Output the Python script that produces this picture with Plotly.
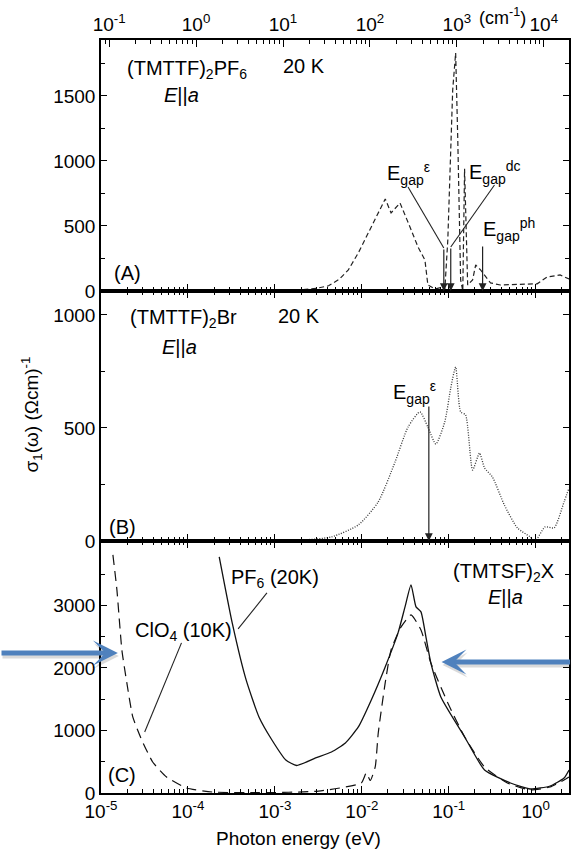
import numpy as np
import plotly.graph_objects as go

EV_TO_CM = 8065.54

# (A) (TMTTF)2PF6, 20 K, E||a
a_ev = [3.9e-4, 1.0e-3, 1.88e-3, 3.0e-3, 4.14e-3, 5.5e-3, 7.0e-3, 9.1e-3, 0.0186, 0.0217,
        0.0275, 0.0358, 0.0443, 0.0532, 0.0575, 0.0692, 0.0800, 0.0900, 0.0975, 0.111,
        0.120, 0.127, 0.137, 0.145, 0.152, 0.165, 0.188, 0.204, 0.232, 0.302, 0.393,
        1.04, 1.35, 1.91, 2.42]
a_sigma = [0, 5, 8, 20, 40, 90, 162, 292, 708, 600,
           677, 492, 338, 238, 46, 15, 25, 5, 392, 1546,
           1831, 1160, 85, 0, 940, 46, 85, 200, 162, 62, 46,
           55, 108, 123, 92]

# (B) (TMTTF)2Br, 20 K, E||a
b_ev = [1.35e-4, 1.0e-3, 1.88e-3, 4.48e-3, 9.12e-3, 0.01545, 0.02415, 0.0340, 0.0466, 0.0575,
        0.0710, 0.0900, 0.1054, 0.120, 0.137, 0.156, 0.188, 0.226, 0.258, 0.318,
        0.436, 0.615, 0.865, 0.987, 1.28, 1.63, 2.12, 2.42]
b_sigma = [0, 2, 3, 18, 71, 173, 350, 504, 571, 504,
           429, 527, 677, 770, 571, 558, 314, 389, 323, 283,
           159, 58, 18, 0, 62, 58, 173, 235]

# (C) (TMTSF)2ClO4, 10 K
clo4_ev = [1.371e-5, 1.524e-5, 1.738e-5, 1.983e-5, 2.32e-5, 2.94e-5, 3.93e-5, 5.68e-5, 9.62e-5, 1.905e-4,
           6.56e-4, 3.18e-3, 9.86e-3, 0.01125, 0.0125, 0.01426, 0.01545, 0.01857, 0.0217, 0.0283,
           0.0368, 0.0479, 0.0622, 0.0975, 0.1524, 0.258, 0.472, 0.865, 1.466, 2.12, 2.42]
clo4_sigma = [3808, 3248, 2288, 1760, 1216, 848, 496, 256, 80, 16,
              5, 30, 160, 320, 200, 416, 960, 1760, 2288, 2656,
              2848, 2608, 2080, 1440, 896, 416, 160, 48, 96, 208, 256]

# (C) (TMTSF)2PF6, 20 K
pf6_ev = [2.29e-4, 3.23e-4, 4.67e-4, 6.56e-4, 9.25e-4, 1.336e-3, 1.78e-3, 2.94e-3, 4.48e-3, 6.47e-3,
          9.12e-3, 0.01285, 0.01857, 0.0261, 0.0314, 0.0368, 0.0420, 0.0479, 0.0546, 0.0622,
          0.0811, 0.1524, 0.258, 0.512, 0.865, 1.466, 2.12, 2.42]
pf6_sigma = [3776, 2720, 1808, 1216, 848, 528, 440, 560, 656, 800,
             1056, 1488, 2016, 2560, 2976, 3328, 2976, 2896, 2496, 2080,
             1536, 896, 368, 160, 64, 112, 240, 368]

# gap markers: (energy in eV, height where the arrow starts)
gap_a = {"eps": (0.0877, 331), "dc": (0.1054, 338), "ph": (0.245, 354)}
gap_b = {"eps": (0.059, 602)}

# leader lines from labels to their targets: (eV, sigma) pairs
leader_a_eps = ([0.0340, 0.0877], [800, 331])
leader_a_dc = ([0.3355, 0.1054], [815, 338])
leader_c_clo4 = ([8.43e-5, 3.18e-5], [2400, 976])
leader_c_pf6 = ([8.1e-4, 3.776e-4], [3200, 2624])

ev_ticks = [1e-5, 1e-4, 1e-3, 1e-2, 1e-1, 1]
ev_ticktext = ["10<sup>-5</sup>", "10<sup>-4</sup>", "10<sup>-3</sup>",
               "10<sup>-2</sup>", "10<sup>-1</sup>", "10<sup>0</sup>"]
cm_ticks = [0.1, 1, 10, 100, 1000, 10000]
cm_ticktext = ["10<sup>-1</sup>", "10<sup>0</sup>", "10<sup>1</sup>",
               "10<sup>2</sup>", "10<sup>3</sup>", "10<sup>4</sup>"]

FONT = "Liberation Sans, Arial, sans-serif"
FS_TICK = 19
FS_TEXT = 20
X_RANGE = [-5, 0.383]

fig = go.Figure()

fig.add_trace(go.Scatter(x=a_ev, y=a_sigma, mode="lines", xaxis="x", yaxis="y",
                         line=dict(color="#222", width=1.2, dash="5px,3px")))
fig.add_trace(go.Scatter(x=b_ev, y=b_sigma, mode="lines", xaxis="x2", yaxis="y2",
                         line=dict(color="#333", width=1.3, dash="1px,1.5px", shape="spline", smoothing=0.6)))
fig.add_trace(go.Scatter(x=clo4_ev, y=clo4_sigma, mode="lines", xaxis="x3", yaxis="y3",
                         line=dict(color="#111", width=1.2, dash="10px,6px", shape="spline", smoothing=0.5)))
fig.add_trace(go.Scatter(x=pf6_ev, y=pf6_sigma, mode="lines", xaxis="x3", yaxis="y3",
                         line=dict(color="#111", width=1.3, shape="spline", smoothing=0.5)))

# wavenumber axis carrier
fig.add_trace(go.Scatter(x=[1.0], y=[-100], mode="markers", xaxis="x4", yaxis="y",
                         marker=dict(opacity=0), hoverinfo="skip"))

# leader lines
for (lx, ly), xa, ya in [(leader_a_eps, "x", "y"), (leader_a_dc, "x", "y"),
                         (leader_c_clo4, "x3", "y3"), (leader_c_pf6, "x3", "y3")]:
    fig.add_trace(go.Scatter(x=lx, y=ly, mode="lines", xaxis=xa, yaxis=ya,
                             line=dict(color="#222", width=1.1), hoverinfo="skip"))

common_x = dict(type="log", range=X_RANGE, showline=True, linecolor="black", linewidth=1.5,
                ticks="inside", ticklen=7, tickwidth=1.2, tickcolor="black",
                tickvals=ev_ticks, ticktext=ev_ticktext, showgrid=False, zeroline=False,
                minor=dict(ticks="inside", ticklen=4, tickwidth=1, tickcolor="black",
                           dtick="D1", showgrid=False),
                tickfont=dict(family=FONT, size=FS_TICK, color="black"))
common_y = dict(showline=True, linecolor="black", linewidth=1.5, ticks="inside", ticklen=6,
                tickwidth=1.2, tickcolor="black", mirror="ticks", showgrid=False, zeroline=False,
                tickfont=dict(family=FONT, size=FS_TICK, color="black"))

dom_c = [0.0, 0.3347]
dom_b = [0.3347, 0.6667]
dom_a = [0.6667, 1.0]

fig.update_layout(
    width=572, height=853,
    margin=dict(l=101, r=1, t=40, b=60),
    paper_bgcolor="white", plot_bgcolor="white",
    showlegend=False,
    font=dict(family=FONT, size=FS_TEXT, color="black"),
    xaxis=dict(common_x, anchor="y", showticklabels=False, mirror=False),
    xaxis2=dict(common_x, anchor="y2", showticklabels=False, mirror="ticks"),
    xaxis3=dict(common_x, anchor="y3", showticklabels=True, mirror="ticks"),
    xaxis4=dict(common_x, overlaying="x", side="top", anchor="y",
                range=[X_RANGE[0] + np.log10(EV_TO_CM), X_RANGE[1] + np.log10(EV_TO_CM)],
                tickvals=cm_ticks, ticktext=cm_ticktext, showticklabels=True),
    yaxis=dict(common_y, domain=dom_a, anchor="x", range=[0, 1930],
               tickvals=[0, 500, 1000, 1500],
               minor=dict(ticks="inside", ticklen=4, dtick=250, tickcolor="black", showgrid=False)),
    yaxis2=dict(common_y, domain=dom_b, anchor="x2", range=[0, 1106],
                tickvals=[0, 500, 1000],
                minor=dict(ticks="inside", ticklen=4, dtick=250, tickcolor="black", showgrid=False)),
    yaxis3=dict(common_y, domain=dom_c, anchor="x3", range=[0, 4030],
                tickvals=[0, 1000, 2000, 3000],
                minor=dict(ticks="inside", ticklen=4, dtick=500, tickcolor="black", showgrid=False)),
)

ann = []


def label(text, x, y, xref, yref, xanchor="left", yanchor="middle", size=FS_TEXT):
    ann.append(dict(text=text, x=x, y=y, xref=xref, yref=yref, xanchor=xanchor,
                    yanchor=yanchor, showarrow=False,
                    font=dict(family=FONT, size=size, color="black")))


# panel A
label("(TMTTF)<sub>2</sub>PF<sub>6</sub>", 0.051, 0.882, "x domain", "y domain")
label("20 K", 0.385, 0.895, "x domain", "y domain")
label("<i>E</i>||<i>a</i>", 0.130, 0.780, "x domain", "y domain")
label("(A)", 0.023, 0.072, "x domain", "y domain")
label("E<sub>gap</sub><sup>ε</sup>", 0.606, 0.470, "x domain", "y domain")
label("E<sub>gap</sub><sup>dc</sup>", 0.783, 0.474, "x domain", "y domain")
label("E<sub>gap</sub><sup>ph</sup>", 0.811, 0.243, "x domain", "y domain")
# panel B
label("(TMTTF)<sub>2</sub>Br", 0.057, 0.888, "x2 domain", "y2 domain")
label("20 K", 0.374, 0.900, "x2 domain", "y2 domain")
label("<i>E</i>||<i>a</i>", 0.126, 0.776, "x2 domain", "y2 domain")
label("(B)", 0.013, 0.056, "x2 domain", "y2 domain")
label("E<sub>gap</sub><sup>ε</sup>", 0.619, 0.592, "x2 domain", "y2 domain")
# panel C
label("(TMTSF)<sub>2</sub>X", 0.972, 0.873, "x3 domain", "y3 domain", xanchor="right")
label("<i>E</i>||<i>a</i>", 0.823, 0.778, "x3 domain", "y3 domain")
label("PF<sub>6</sub> (20K)", 0.274, 0.850, "x3 domain", "y3 domain")
label("ClO<sub>4</sub> (10K)", 0.068, 0.640, "x3 domain", "y3 domain")
label("(C)", 0.011, 0.071, "x3 domain", "y3 domain")

# axis titles
label("Photon energy (eV)", 0.421, -0.0598, "paper", "paper", xanchor="center", size=19)
label("(cm<sup>-1</sup>)", 0.857, 1.0495, "paper", "paper", xanchor="center", yanchor="top", size=18)
ann.append(dict(text="σ<sub>1</sub>(ω) (Ωcm)<sup>-1</sup>", x=-0.149, y=0.503, xref="paper",
                yref="paper", textangle=-90, showarrow=False, xanchor="center", yanchor="middle",
                font=dict(family=FONT, size=19, color="black")))

# gap arrows
for key, (e, top) in gap_a.items():
    ann.append(dict(x=np.log10(e), y=0, xref="x", yref="y", ax=np.log10(e), ay=top,
                    axref="x", ayref="y", showarrow=True, arrowhead=2, arrowsize=1.3,
                    arrowwidth=1.2, arrowcolor="#222", standoff=0, text=""))
for key, (e, top) in gap_b.items():
    ann.append(dict(x=np.log10(e), y=0, xref="x2", yref="y2", ax=np.log10(e), ay=top,
                    axref="x2", ayref="y2", showarrow=True, arrowhead=2, arrowsize=1.3,
                    arrowwidth=1.2, arrowcolor="#222", standoff=0, text=""))

# highlight arrows (with soft shadow)
for (tx, ty, dx) in [(0.036, 0.186, -118), (0.7277, 0.174, 130)]:
    ann.append(dict(x=tx, y=ty, xref="paper", yref="paper", ax=dx, ay=0, axref="pixel",
                    ayref="pixel", showarrow=True, arrowhead=3, arrowsize=0.83, arrowwidth=5,
                    arrowcolor="rgba(0,0,0,0.14)", standoff=0, text="", yshift=-3, xshift=1))
    ann.append(dict(x=tx, y=ty, xref="paper", yref="paper", ax=dx, ay=0, axref="pixel",
                    ayref="pixel", showarrow=True, arrowhead=3, arrowsize=0.83, arrowwidth=5,
                    arrowcolor="#4F81BD", standoff=0, text=""))

fig.update_layout(annotations=ann)

fig.write_html("out.html")
